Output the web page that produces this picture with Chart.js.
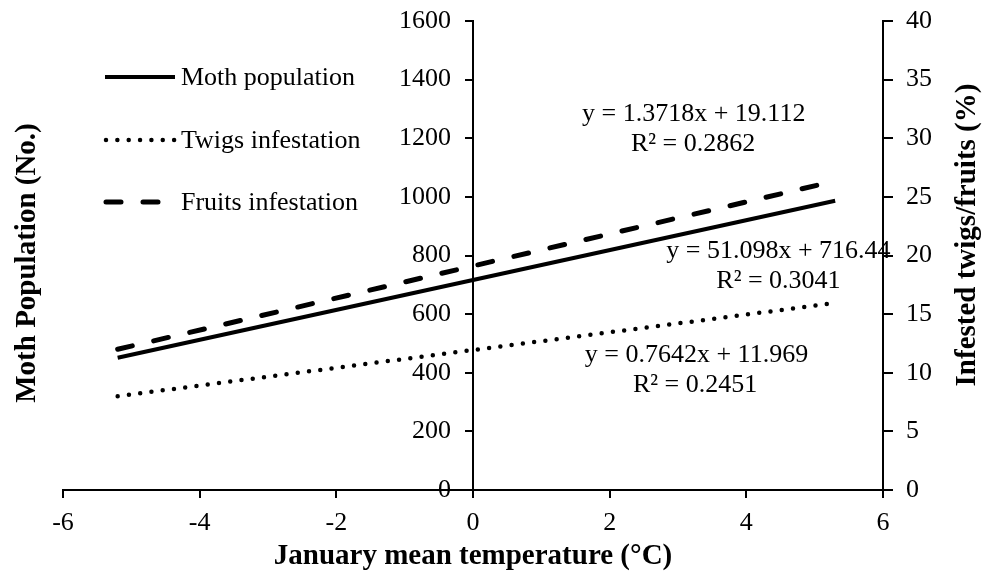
<!DOCTYPE html>
<html><head><meta charset="utf-8">
<script src="https://cdn.jsdelivr.net/npm/chart.js@4.4.1/dist/chart.umd.min.js"></script>
<style>html,body{margin:0;padding:0;background:#fff}#wrap{width:985px;height:573px;position:relative}</style>
</head><body><div id="wrap"><canvas id="c"></canvas></div>
<script>
// ---- data ----
const temperatures = [-5.2, 5.3];            // January mean temperature (°C), trendline ends
const mothPopulation = [451, 987];           // left axis (No.)
const twigsInfestation = [8.0, 15.95];       // right axis (%)
const fruitsInfestation = [12.0, 26.35];     // right axis (%)
const seriesNames = ['Moth population', 'Twigs infestation', 'Fruits infestation'];
const xRange = [-6, 6, 2];
const leftRange = [0, 1600, 200];
const rightRange = [0, 40, 5];
const axisTitles = ['January mean temperature (°C)', 'Moth Population (No.)', 'Infested twigs/fruits (%)'];
const equationTexts = ['y = 1.3718x + 19.112', 'R² = 0.2862', 'y = 51.098x + 716.44', 'R² = 0.3041', 'y = 0.7642x + 11.969', 'R² = 0.2451'];

const FONT = "'Times New Roman', 'Liberation Serif', serif";
const toPts = ys => temperatures.map((t, i) => ({x: t, y: ys[i]}));

// label anchors (in axis units) for the trendline equations
const eqAnchors = [
  {x: 3.23, y: 1283}, {x: 3.22, y: 1181},
  {x: 4.47, y: 816},  {x: 4.47, y: 711},
  {x: 3.27, y: 460},  {x: 3.25, y: 359}
];

const LEFT_AXIS_W = 63;

const overlay = {
  id: 'overlay',
  afterLayout(chart) {
    // put the left value axis where the temperature is 0
    const ys = chart.scales.y;
    const px = chart.scales.x.getPixelForValue(0);
    ys.left = 0;
    ys.right = px;
  },
  afterDraw(chart) {
    const ctx = chart.ctx;
    const xs = chart.scales.x, ys = chart.scales.y;
    ctx.save();
    ctx.fillStyle = '#000';
    ctx.font = `26px ${FONT}`;
    ctx.textAlign = 'center';
    ctx.textBaseline = 'middle';
    equationTexts.forEach((t, i) => {
      ctx.fillText(t, xs.getPixelForValue(eqAnchors[i].x), ys.getPixelForValue(eqAnchors[i].y));
    });
    // legend
    const rows = [77, 140, 202];
    chart.data.datasets.forEach((ds, i) => {
      ctx.save();
      ctx.strokeStyle = ds.borderColor;
      ctx.lineWidth = ds.borderWidth;
      ctx.lineCap = ds.borderCapStyle || 'butt';
      ctx.setLineDash(ds.borderDash || []);
      ctx.beginPath();
      const x0 = ds.borderCapStyle === 'round' ? 106 : 105;
      ctx.moveTo(x0, rows[i]);
      ctx.lineTo(ds.borderCapStyle === 'round' ? 174.5 : 175, rows[i]);
      ctx.stroke();
      ctx.restore();
      ctx.textAlign = 'left';
      ctx.fillText(ds.label, 181, rows[i] + 1);
    });
    // y axis titles
    ctx.font = `bold 29px ${FONT}`;
    ctx.textAlign = 'center';
    ctx.save();
    ctx.translate(28, 263);
    ctx.rotate(-Math.PI / 2);
    ctx.fillText(axisTitles[1], 0, 0);
    ctx.restore();
    ctx.save();
    ctx.translate(968, 235);
    ctx.rotate(-Math.PI / 2);
    ctx.fillText(axisTitles[2], 0, 0);
    ctx.restore();
    ctx.restore();
  }
};

const axisGrid = len => ({drawOnChartArea: false, drawTicks: true, tickLength: len, color: '#000', lineWidth: 2});
const axisBorder = {display: true, color: '#000', width: 2};
const plain = v => String(v);
const noPad = s => { s.paddingTop = 0; s.paddingBottom = 0; s.paddingLeft = 0; s.paddingRight = 0; };

new Chart(document.getElementById('c'), {
  type: 'line',
  data: {
    datasets: [
      {label: seriesNames[0], data: toPts(mothPopulation), yAxisID: 'y', borderColor: '#000', borderWidth: 4, borderCapStyle: 'butt', pointRadius: 0, fill: false, tension: 0},
      {label: seriesNames[1], data: toPts(twigsInfestation), yAxisID: 'y2', borderColor: '#000', borderWidth: 4.5, borderDash: [0, 11.35], borderCapStyle: 'round', pointRadius: 0, fill: false, tension: 0},
      {label: seriesNames[2], data: toPts(fruitsInfestation), yAxisID: 'y2', borderColor: '#000', borderWidth: 5, borderDash: [15, 22], borderCapStyle: 'round', pointRadius: 0, fill: false, tension: 0}
    ]
  },
  options: {
    responsive: true,
    maintainAspectRatio: false,
    animation: false,
    layout: {padding: {left: 0, top: 21, right: 0, bottom: 0}},
    plugins: {legend: {display: false}, tooltip: {enabled: false}},
    scales: {
      x: {
        type: 'linear', position: 'bottom', min: xRange[0], max: xRange[1],
        ticks: {stepSize: xRange[2], color: '#000', font: {family: FONT, size: 26}, padding: 10, maxRotation: 0, callback: plain},
        grid: axisGrid(8), border: axisBorder,
        title: {display: true, text: axisTitles[0], color: '#000', font: {family: FONT, size: 29, weight: 'bold', lineHeight: 1}, padding: {top: 0, bottom: 2}},
        afterFit: s => { s.height = 83; noPad(s); }
      },
      y: {
        type: 'linear', position: 'left', min: leftRange[0], max: leftRange[1],
        ticks: {stepSize: leftRange[2], color: '#000', font: {family: FONT, size: 26}, padding: 14, callback: plain},
        grid: axisGrid(8), border: axisBorder,
        afterFit: s => { s.width = LEFT_AXIS_W; noPad(s); }
      },
      y2: {
        type: 'linear', position: 'right', min: rightRange[0], max: rightRange[1],
        ticks: {stepSize: rightRange[2], color: '#000', font: {family: FONT, size: 26}, padding: 13, callback: plain},
        grid: axisGrid(10), border: axisBorder,
        afterFit: s => { s.width = 102; noPad(s); }
      }
    }
  },
  plugins: [overlay]
});
</script></body></html>
